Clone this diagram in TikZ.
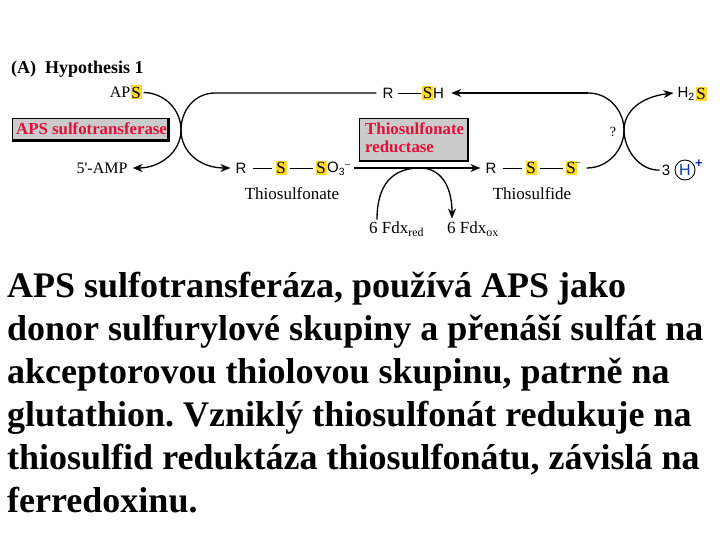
\documentclass[tikz,border=0pt]{standalone}
\usepackage{fontspec}
\setmainfont{Liberation Serif}
\newfontfamily\lab{Liberation Sans}
\usetikzlibrary{arrows.meta,calc}
\definecolor{hl}{HTML}{FFD92E}
\definecolor{enz}{HTML}{E0103A}
\definecolor{boxg}{HTML}{CBCBCB}
\definecolor{hblue}{HTML}{1030C0}
\frenchspacing
\tikzset{
 x=1pt,y=-1pt,
 slab/.style={inner sep=0pt,font=\fontsize{16}{16}\selectfont,anchor=center},
 rlab/.style={inner sep=0pt,font=\lab\fontsize{15}{15}\selectfont,anchor=center},
 sul/.style={inner sep=0pt,minimum width=11pt,minimum height=14pt,fill=hl,font=\fontsize{17}{17}\selectfont,anchor=center},
 cap1/.style={inner sep=0pt,font=\fontsize{17}{17}\selectfont,anchor=center},
 enzbox/.style={draw=black,line width=.6pt,fill=boxg,inner sep=0pt,anchor=north west},
 enztxt/.style={inner sep=0pt,font=\bfseries\fontsize{16.8}{17}\selectfont,text=enz,anchor=west},
 shadow/.style={fill=black,draw=none,inner sep=0pt,anchor=north west},
 link/.style={line width=1.3pt},
 arr/.style={line width=1.3pt,-{Stealth[length=10pt,width=8pt]}},
 bond/.style={line width=.8pt},
 para/.style={inner sep=0pt,anchor=base west,font=\bfseries\fontsize{36}{36}\selectfont},
 fdx/.style={inner sep=0pt,anchor=west,font=\fontsize{17}{17}\selectfont},
}
\begin{document}
\begin{tikzpicture}
\useasboundingbox (0,0) rectangle (720,540);
% heading
\node[inner sep=0pt,anchor=west,font=\bfseries\fontsize{18}{18}\selectfont] (head) at (11,69.5) {(A)\hspace{9pt}Hypothesis 1};
% left pair
\node[slab,anchor=east] (apsa) at (130.5,92.5) {AP};
\node[sul] (apss) at (136,92.5) {S};
\node[slab] (amp) at (102,168) {5\textquotesingle-AMP};
% enzyme boxes
\node[shadow,minimum width=158pt,minimum height=24pt] (sh1) at (12,118) {};
\node[enzbox,minimum width=155pt,minimum height=21pt] (enz1) at (12,118) {};
\node[enztxt] (enz1t) at (16,128.5) {APS sulfotransferase};
\node[shadow,minimum width=110pt,minimum height=44pt] (sh2) at (359,118) {};
\node[enzbox,minimum width=108pt,minimum height=42pt] (enz2) at (359,118) {};
\node[enztxt] (enz2a) at (365,129) {Thiosulfonate};
\node[enztxt] (enz2b) at (365,147) {reductase};
% R-SH
\node[rlab] (r1) at (388,93) {R};
\node[sul] (s1) at (427.5,93) {S};
\node[rlab,anchor=west] (h1) at (433,93) {H};
% thiosulfonate
\node[rlab] (r2) at (241,168) {R};
\node[sul] (s2) at (281,168) {S};
\node[sul] (s3) at (321,168) {S};
\node[rlab,anchor=west] (o3) at (327,169) {O\textsubscript{3}\raisebox{5pt}{\fontsize{9}{9}\selectfont –}};
\node[cap1] (tsn) at (292,194) {Thiosulfonate};
% thiosulfide
\node[rlab] (r3) at (491,168) {R};
\node[sul] (s4) at (531,168) {S};
\node[sul] (s5) at (571,168) {S};
\node[inner sep=0pt,font=\fontsize{10}{10}\selectfont] (minus) at (578,164) {–};
\node[cap1] (tsd) at (532,194) {Thiosulfide};
% right side
\node[rlab,anchor=east] (h2) at (695,94) {H\textsubscript{2}};
\node[sul] (s6) at (701,94) {S};
\node[inner sep=0pt,font=\fontsize{14}{14}\selectfont] (q) at (613,132) {?};
\node[rlab] (three) at (666,170) {3};
\node[circle,draw=black,line width=.9pt,minimum size=20pt,inner sep=0pt,font=\lab\fontsize{16}{16}\selectfont,text=hblue] (hp) at (685,170) {H};
\node[inner sep=0pt,font=\lab\bfseries\fontsize{13}{13}\selectfont,text=hblue] (plus) at (699,164) {+};
% Fdx
\node[fdx] (fr) at (369,229) {6 Fdx\textsubscript{red}};
\node[fdx] (fo) at (447,229) {6 Fdx\textsubscript{ox}};
% crossing points
\coordinate (c1) at (181,130);
\coordinate (c2) at (624,130);
\coordinate (top1) at (215,93);
\coordinate (top2) at (588,93);
\coordinate (peak) at (420,168);
% bonds
\draw[bond] ($(r2.east)+(6,0)$) -- ($(s2.west)+(-3,0)$);
\draw[bond] ($(s2.east)+(3,0)$) -- ($(s3.west)+(-2,0)$);
\draw[bond] ($(r1.east)+(4,0)$) -- ($(s1.west)+(-1,0)$);
\draw[bond] ($(r3.east)+(6,0)$) -- ($(s4.west)+(-3,0)$);
\draw[bond] ($(s4.east)+(3,0)$) -- ($(s5.west)+(-2,0)$);
% left crossing
\draw[link] ($(apss.east)+(2,0)$) .. controls (165,93) and (181,110) .. (c1);
\draw[arr] (c1) .. controls (181,152) and (160,168) .. ($(amp.east)+(5,0)$);
\draw[link] ($(r1.west)+(-6,0)$) -- (top1) .. controls (195,93) and (181,110) .. (c1);
\draw[arr] (c1) .. controls (181,152) and (200,168) .. ($(r2.west)+(-5,0)$);
% main lines
\draw[arr] (top2) -- ($(h1.east)+(7,0)$);
\draw[arr] ($(o3.east)+(4,-1)$) -- ($(r3.west)+(-5,0)$);
% right crossing
\draw[link] (top2) .. controls (610,93) and (624,112) .. (c2);
\draw[link] (c2) .. controls (624,150) and (608,168) .. ($(s5.east)+(10,0)$);
\draw[arr] (c2) .. controls (624,112) and (640,97) .. ($(h2.west)+(-4,-1)$);
\draw[link] (c2) .. controls (624,150) and (640,171) .. ($(three.west)+(-2,0)$);
% Fdx
\draw[link] ($(fr.north west)+(8,-2)$) .. controls (377,185) and (392,168) .. (peak);
\draw[arr] (peak) .. controls (440,168) and (452,185) .. ($(fo.north west)+(5,-3)$);
% paragraph
\node[para] (l1) at (7,297) {APS sulfotransferáza, používá APS jako};
\node[para] (l2) at (7,340) {donor sulfurylové skupiny a přenáší sulfát na};
\node[para] (l3) at (7,383) {akceptorovou thiolovou skupinu, patrně na};
\node[para] (l4) at (7,426) {glutathion. Vzniklý thiosulfonát redukuje na};
\node[para] (l5) at (7,469) {thiosulfid reduktáza thiosulfonátu, závislá na};
\node[para] (l6) at (7,512) {ferredoxinu.};
\end{tikzpicture}
\end{document}
